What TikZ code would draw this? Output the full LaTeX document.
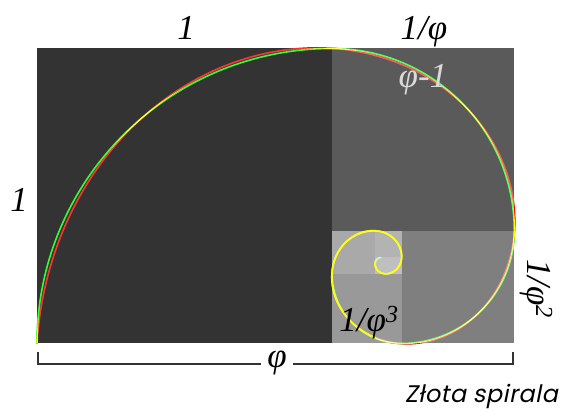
\documentclass[tikz,border=0pt]{standalone}
\usepackage{fontspec}
\setmainfont{Liberation Serif}
\newfontfamily\gothic[FakeSlant=0.2,LetterSpace=2]{Poppins}
\definecolor{sqa}{HTML}{333333}
\definecolor{sqb}{HTML}{5A5A5A}
\definecolor{sqc}{HTML}{7F7F7F}
\definecolor{sqd}{HTML}{999999}
\definecolor{sqe}{HTML}{A9A9A9}
\definecolor{sqf}{HTML}{B3B3B3}
\definecolor{sqg}{HTML}{BFBFBF}
\definecolor{lbllight}{HTML}{DADADA}
\definecolor{brkcol}{HTML}{333333}
\definecolor{spred}{HTML}{FF0000}
\definecolor{spgreen}{HTML}{00FF00}
\definecolor{spyellow}{HTML}{FFFF00}
\tikzset{
  lbl/.style={font=\fontsize{35}{35}\selectfont\itshape, inner sep=0pt, anchor=base},
  spir/.style={line width=1.6pt},
  brk/.style={line width=1.4pt, draw=brkcol},
}
\begin{document}
\begin{tikzpicture}[x=1pt,y=1pt]
\useasboundingbox (0,0) rectangle (562,411);
\begin{scope}[shift={(37,67.5)}, scale=295]
  \fill[sqa] (0,0) rectangle (1,1);
  \fill[sqb] (1,0.381966) rectangle (1.618034,1);
  \fill[sqc] (1.236068,0) rectangle (1.618034,0.381966);
  \fill[sqd] (1,0) rectangle (1.236068,0.236068);
  \fill[sqe] (1,0.236068) rectangle (1.145898,0.381966);
  \fill[sqf] (1.145898,0.291796) rectangle (1.236068,0.381966);
  \fill[sqg] (1.145898,0.236068) rectangle (1.236068,0.291796);
  \begin{scope}[blend mode=lighten]
  \draw[spir, spgreen] (0,0) arc[start angle=180, end angle=90, radius=1]
     arc[start angle=90, end angle=0, radius=0.618034]
     arc[start angle=0, end angle=-90, radius=0.381966]
     arc[start angle=-90, end angle=-180, radius=0.236068]
     arc[start angle=180, end angle=90, radius=0.145898]
     arc[start angle=90, end angle=0, radius=0.090170]
     arc[start angle=0, end angle=-90, radius=0.055728]
     arc[start angle=-90, end angle=-180, radius=0.034442]
     arc[start angle=180, end angle=90, radius=0.021286];
  \draw[spir, spred] plot[domain=193.28:-550, samples=600, smooth]
     ({1.1708+1.2030*exp(0.0053468*(\x-193.28))*cos(\x)},
      {0.2764+1.2030*exp(0.0053468*(\x-193.28))*sin(\x)});
  \end{scope}
  \draw[spir, spyellow] plot[domain=-95:-550, samples=400, smooth]
     ({1.1708+1.2030*exp(0.0053468*(\x-193.28))*cos(\x)},
      {0.2764+1.2030*exp(0.0053468*(\x-193.28))*sin(\x)});
\end{scope}
\node[lbl] (ltop) at (186,371) {1};
\node[lbl] (linv) at (424,371) {1/φ};
\node[lbl, text=lbllight] (lphim) at (423,323) {φ-1};
\node[lbl] (lleft) at (19,199) {1};
\node[lbl, rotate=-90] (linvsq) at (527,122) {1/φ\textsuperscript{2}};
\node[lbl, text=black] (linvcb) at (369,79) {1/φ\textsuperscript{3}};
\node[lbl] (lphi) at (277,43) {φ};
\coordinate (bl) at (38,59);
\coordinate (gl) at (261,47);
\coordinate (gr) at (293,47);
\coordinate (br) at (513,59);
\draw[brk] (bl) |- (gl);
\draw[brk] (gr) -| (br);
\node[font=\gothic\fontsize{24}{24}\selectfont, inner sep=0pt, anchor=base east] (caption) at (558,8) {Złota spirala};
\end{tikzpicture}
\end{document}
